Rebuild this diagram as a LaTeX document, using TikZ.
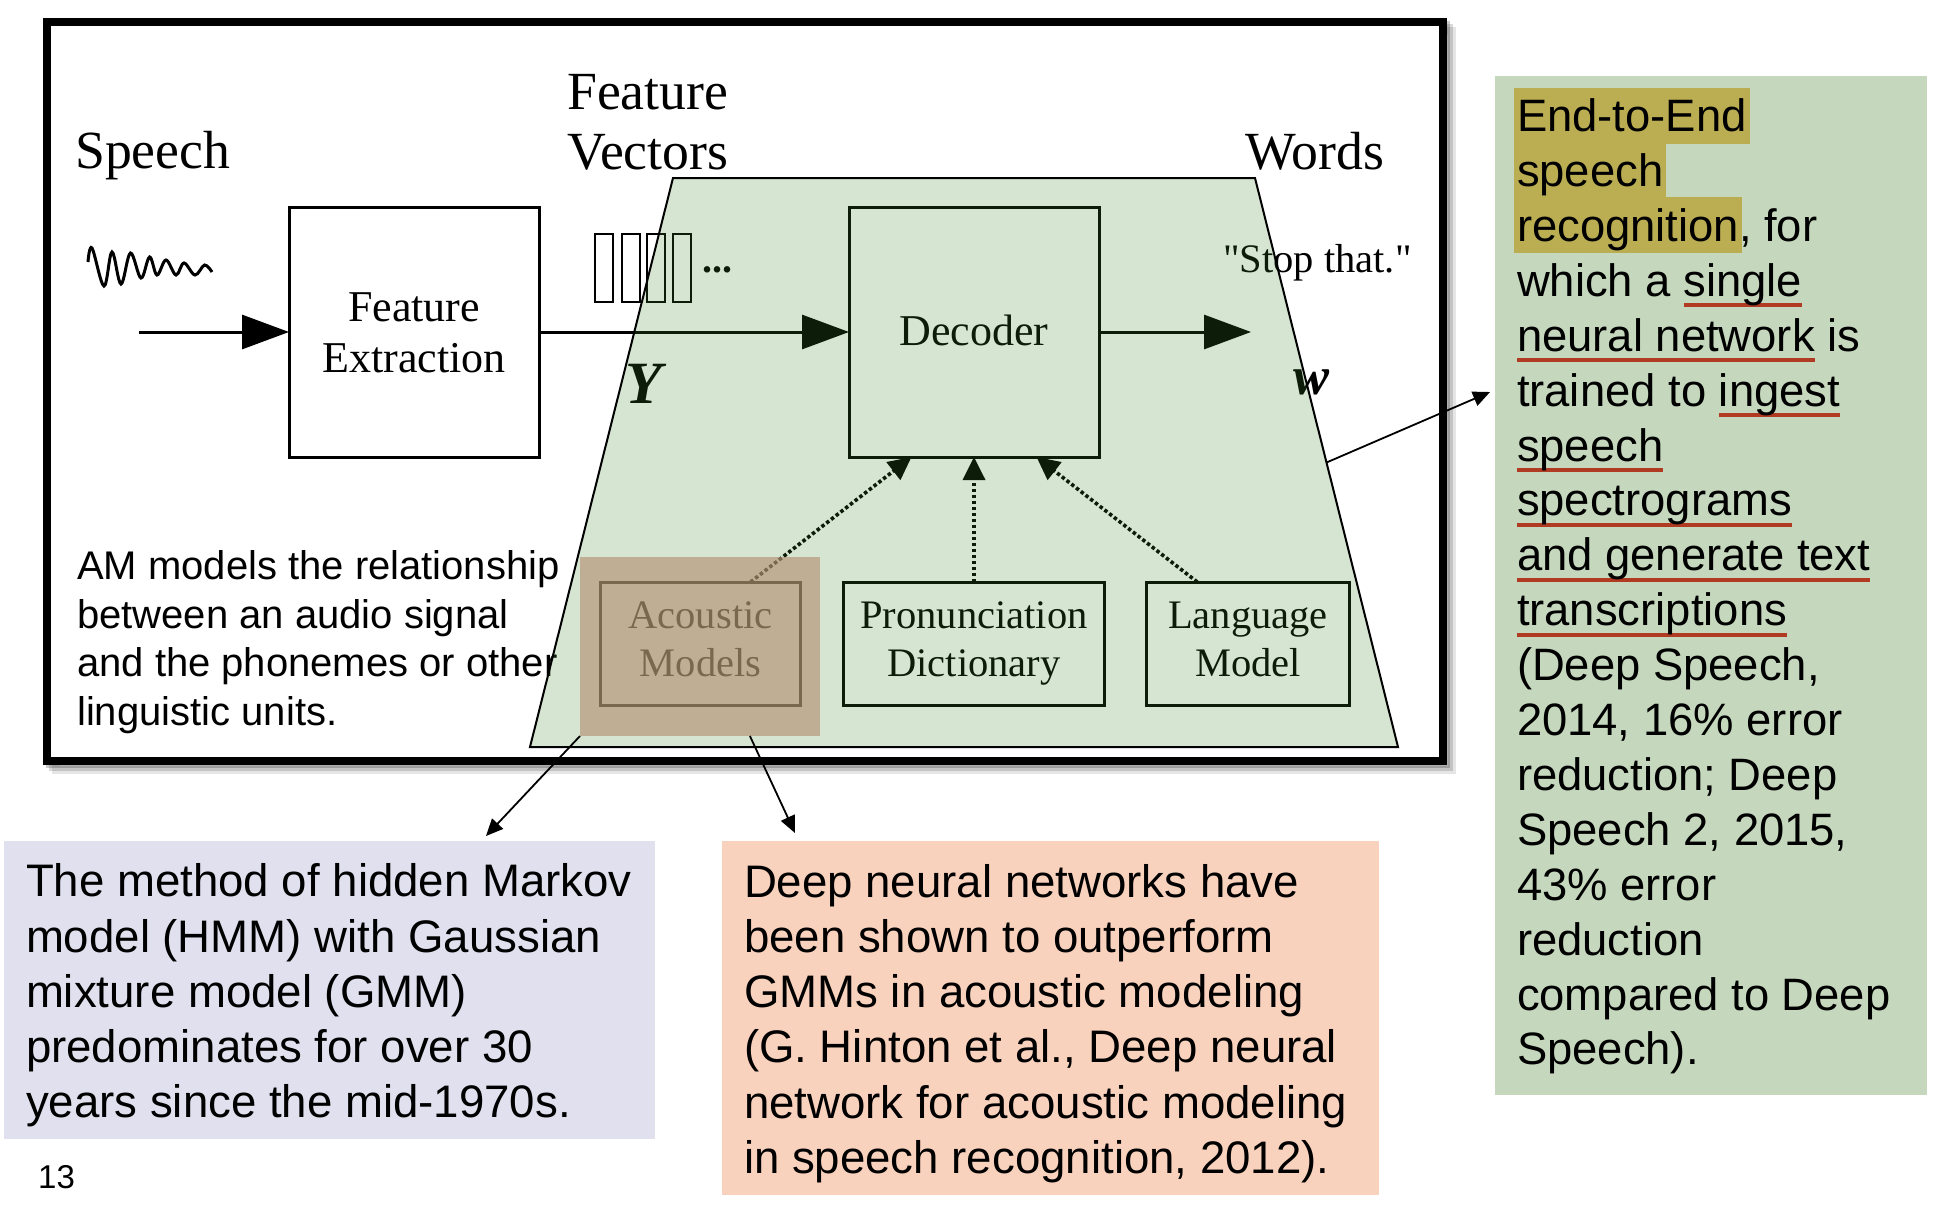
\documentclass[tikz,border=0pt]{standalone}
\usepackage{xcolor}
\usepackage{fontspec}
\usepackage{tikz}
\usetikzlibrary{arrows.meta, positioning, calc}
\setmainfont{Liberation Sans}
\newfontfamily\figfont{Liberation Serif}
\definecolor{trapgreen}{RGB}{62,130,45}
\definecolor{ambrown}{RGB}{180,146,114}
\definecolor{hmmblue}{HTML}{E0E0EE}
\definecolor{dnnorange}{HTML}{F9D2BE}
\definecolor{e2egreen}{HTML}{C5D8BD}
\definecolor{hiliteyellow}{HTML}{BBAE52}
\definecolor{underred}{HTML}{B03A22}
\newsavebox{\notebin}
\newcommand{\hilite}[1]{\leavevmode\sbox{\notebin}{#1}\smash{\makebox[0pt][l]{\hskip-3pt\textcolor{hiliteyellow}{\rule[-12pt]{\dimexpr\wd\notebin+6pt}{56pt}}}}\usebox{\notebin}}
\newcommand{\redul}[1]{\leavevmode\sbox{\notebin}{#1}\smash{\makebox[0pt][l]{\textcolor{underred}{\rule[-11pt]{\wd\notebin}{4pt}}}}\usebox{\notebin}}

\begin{document}
\begin{tikzpicture}[x=1pt, y=-1pt,
        stagebox/.style={draw, line width=3pt, outer sep=0pt, minimum width=250pt, minimum height=250pt, align=center, text depth=10pt, font=\figfont\fontsize{44}{51}\selectfont},
        knowbox/.style={draw, line width=3pt, outer sep=0pt, minimum height=123pt, align=center, text height=75pt, text depth=10pt, font=\figfont\fontsize{40.5}{48}\selectfont},
        figlabel/.style={anchor=base west, inner sep=0pt, align=left, font=\figfont\fontsize{53.7}{60}\selectfont},
        flow/.style={-{Triangle[length=47pt, width=34pt]}, line width=3pt},
        feed/.style={-{Triangle[length=23pt, width=22pt]}, line width=3.6pt, dash pattern=on 3.5pt off 2.5pt},
        callout/.style={-{Triangle[length=17pt, width=15pt]}, line width=1.8pt},
        notebox/.style={anchor=north west, outer sep=0pt, inner xsep=22pt, inner ysep=0pt, align=flush left, font=\fontsize{45.6}{55.2}\selectfont, execute at begin node={\rule{0pt}{#1}}}
    ]
        \useasboundingbox (0,0) rectangle (1944,1208);
        % frame with its shadow
        \foreach \s/\o in {3/.2, 6/.15, 9/.1}
            \draw [line width=8pt, black, opacity=\o] (46.5+\s,22+\s) rectangle (1443+\s,761+\s);
        \node (frame) [draw, fill=white, line width=8pt, outer sep=0pt, minimum width=1396.5pt, minimum height=739pt] at (744.75,391.5) {};

        \node (speech) [figlabel] at (75,168) {Speech};
        \node (vectors) [figlabel] at (567,169) {Feature\\Vectors};
        \node (words) [figlabel] at (1245,169) {Words};
        \node (stop) [figlabel, font=\figfont\fontsize{40.5}{48}\selectfont] at (1223,272) {"Stop that."};
        \node (ysym) [font=\figfont\bfseries\itshape\fontsize{60}{60}\selectfont] at (644,384) {Y};
        \node (wsym) [font=\figfont\bfseries\itshape\fontsize{54}{54}\selectfont] at (1311,382) {w};
        \node (dots) [font=\figfont\bfseries\fontsize{40}{40}\selectfont] at (717,270) {...};

        \node (featext) [stagebox, text height=91pt] at (414,332) {Feature\\Extraction};
        \node (decoder) [stagebox, text height=36pt, right=310pt of featext] {Decoder};
        \node (pron) [knowbox, minimum width=261pt, below=125pt of decoder] {Pronunciation\\Dictionary};
        \node (acoustic) [knowbox, minimum width=200pt, left=43pt of pron] {Acoustic\\Models};
        \node (language) [knowbox, minimum width=203pt, right=42pt of pron] {Language\\Model};

        \coordinate (speechin) at (139,332);
        \coordinate (wordsout) at (1251,332);
        \draw [flow] (speechin) -- (featext.west);
        \draw [flow] (featext.east) -- (decoder.west);
        \draw [flow] (decoder.east) -- (wordsout);
        \draw [feed] ($(acoustic.north west)!.75!(acoustic.north east)$) -- ($(decoder.south west)!.25!(decoder.south east)$);
        \draw [feed] (pron.north) -- (decoder.south);
        \draw [feed] ($(language.north west)!.25!(language.north east)$) -- ($(decoder.south west)!.75!(decoder.south east)$);

        % feature vectors and waveform
        \foreach \x in {604,631,656,682}
            \draw [line width=2.5pt] (\x-9,234) rectangle (\x+9,302);
        \draw [line width=3pt] plot[smooth, tension=.6] coordinates {(88,262) (92,248) (104,286) (112,252) (121,284) (130.5,253) (141,278) (149.6,257) (157,275) (166,260) (176,275) (184,263) (195,275) (204.6,265) (212,272)};

        \node (amtext) [anchor=base west, inner sep=0pt, align=left, font=\fontsize{40}{48.4}\selectfont] at (77,725) {AM models the relationship\\between an audio signal\\and the phonemes or other\\linguistic units.};

        % overlays
        \coordinate (trapTL) at (673,178);
        \coordinate (trapTR) at (1255,178);
        \coordinate (trapBR) at (1398,747);
        \coordinate (trapBL) at (530,747);
        \fill [trapgreen, fill opacity=.21] (trapTL) -- (trapTR) -- (trapBR) -- (trapBL) -- cycle;
        \draw [line width=2pt] (trapTL) -- (trapTR) -- (trapBR) -- (trapBL) -- cycle;
        \node (amhl) [fill=ambrown, fill opacity=.65, outer sep=0pt, inner sep=0pt, minimum width=240pt, minimum height=179pt] at (700,646.5) {};

        \node (hmmbox) [notebox=44pt, text width=607pt, fill=hmmblue, minimum height=298pt] at (4,841) {The method of hidden Markov\\model (HMM) with Gaussian\\mixture model (GMM)\\predominates for over 30\\years since the mid-1970s.};
        \node (dnnbox) [notebox=44pt, text width=613pt, fill=dnnorange, minimum height=354pt] at (722,841) {Deep neural networks have\\been shown to outperform\\GMMs in acoustic modeling\\(G. Hinton et al., Deep neural\\network for acoustic modeling\\in speech recognition, 2012).};
        \node (e2ebox) [notebox=35pt, text width=388pt, fill=e2egreen, minimum height=1019pt, font=\fontsize{45.4}{54.9}\selectfont] at (1495,76) {\hilite{End-to-End}\\\hilite{speech}\\\hilite{recognition}, for\\which a \redul{single}\\\redul{neural network} is\\trained to \redul{ingest}\\\redul{speech}\\\redul{spectrograms}\\\redul{and generate text}\\\redul{transcriptions}\\(Deep Speech,\\2014, 16\% error\\reduction; Deep\\Speech 2, 2015,\\43\% error\\reduction\\compared to Deep\\Speech).};
        \node (pagenum) [anchor=base west, inner sep=0pt, font=\fontsize{33}{33}\selectfont] at (38,1188) {13};

        \coordinate (hmmtip) at (486,836);
        \coordinate (dnntip) at (795,833);
        \coordinate (e2etip) at (1490,392);
        \draw [callout] (amhl.south west) -- (hmmtip);
        \draw [callout] ($(amhl.south west)!.708!(amhl.south east)$) -- (dnntip);
        \draw [callout] ($(trapTR)!.5!(trapBR)$) -- (e2etip);
    \end{tikzpicture}
\end{document}
